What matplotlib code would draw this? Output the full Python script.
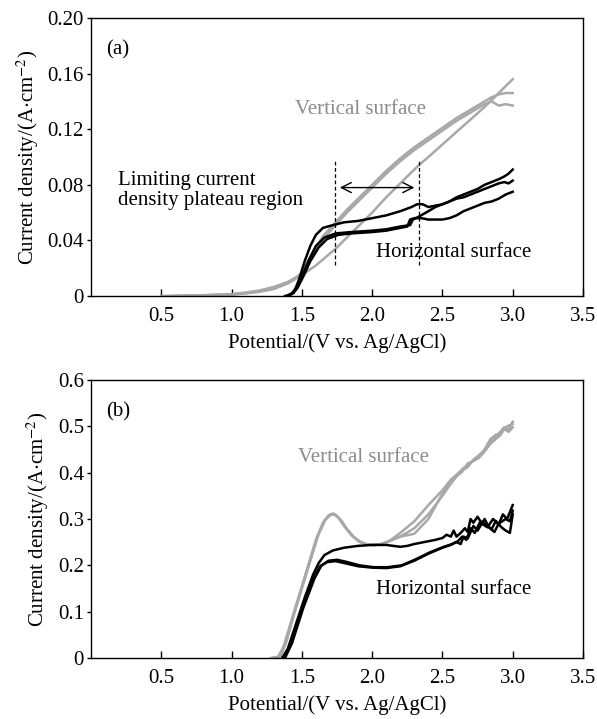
import numpy as np
import matplotlib
matplotlib.use("Agg")
import matplotlib.pyplot as plt

plt.rcParams["font.family"] = ["Liberation Serif", "DejaVu Serif"]
plt.rcParams["mathtext.fontset"] = "stix"

GRAY = "#a8a8a8"
GRAY_TXT = "#8c8c8c"

# ---- panel (a): potential (V) / current density (A cm^-2) ----
a_vert = [
    ([0.50, 0.80, 1.00, 1.10, 1.20, 1.30, 1.40, 1.45, 1.50, 1.55, 1.60, 1.65, 1.74, 1.82, 1.90, 2.00,
      2.10, 2.20, 2.30, 2.40, 2.50, 2.60, 2.70, 2.80, 2.85, 2.90, 2.95, 3.00],
     [0.000, 0.0005, 0.001, 0.0018, 0.003, 0.005, 0.009, 0.012, 0.017, 0.026, 0.035, 0.043, 0.053, 0.062,
      0.070, 0.080, 0.090, 0.099, 0.107, 0.114, 0.121, 0.128, 0.134, 0.140, 0.143, 0.145, 0.146, 0.146]),
    ([0.55, 0.80, 1.00, 1.10, 1.20, 1.30, 1.40, 1.45, 1.50, 1.55, 1.60, 1.66, 1.74, 1.82, 1.90, 2.00,
      2.10, 2.20, 2.30, 2.40, 2.50, 2.60, 2.70, 2.80, 2.85, 2.90, 2.95, 3.00],
     [0.000, 0.0006, 0.0012, 0.002, 0.0035, 0.006, 0.010, 0.013, 0.016, 0.024, 0.033, 0.042, 0.051, 0.060,
      0.068, 0.078, 0.088, 0.097, 0.105, 0.112, 0.119, 0.126, 0.132, 0.138, 0.140, 0.137, 0.138, 0.137]),
    ([0.60, 0.90, 1.00, 1.10, 1.20, 1.30, 1.40, 1.50, 1.60, 1.74, 1.90, 2.00, 2.10, 2.20, 2.32, 2.40,
      2.50, 2.60, 2.70, 2.80, 2.85, 2.90, 2.95, 3.00],
     [0.000, 0.0008, 0.0014, 0.0025, 0.004, 0.0065, 0.010, 0.015, 0.022, 0.034, 0.050, 0.060, 0.071, 0.081,
      0.093, 0.100, 0.109, 0.118, 0.127, 0.136, 0.141, 0.146, 0.151, 0.156]),
]
a_horz = [
    ([1.38, 1.42, 1.45, 1.48, 1.52, 1.56, 1.60, 1.65, 1.72, 1.80, 1.90, 2.00, 2.10, 2.20, 2.28, 2.32,
      2.36, 2.40, 2.45, 2.50, 2.55, 2.60, 2.65, 2.70, 2.75, 2.80, 2.85, 2.90, 2.94, 2.97, 3.00],
     [0.000, 0.001, 0.004, 0.012, 0.025, 0.036, 0.044, 0.049, 0.051, 0.053, 0.054, 0.056, 0.058, 0.061,
      0.064, 0.066, 0.066, 0.064, 0.065, 0.066, 0.068, 0.070, 0.071, 0.073, 0.075, 0.077, 0.079, 0.081,
      0.082, 0.081, 0.083]),
    ([1.39, 1.43, 1.46, 1.50, 1.55, 1.60, 1.66, 1.74, 1.85, 2.00, 2.10, 2.20, 2.27, 2.29, 2.33, 2.40,
      2.45, 2.50, 2.55, 2.60, 2.65, 2.70, 2.75, 2.80, 2.85, 2.90, 2.94, 2.97, 3.00],
     [0.000, 0.002, 0.006, 0.014, 0.026, 0.036, 0.042, 0.045, 0.046, 0.047, 0.048, 0.050, 0.051, 0.055,
      0.057, 0.061, 0.064, 0.066, 0.068, 0.071, 0.073, 0.075, 0.077, 0.080, 0.082, 0.084, 0.086, 0.088, 0.091]),
    ([1.40, 1.44, 1.47, 1.51, 1.56, 1.62, 1.68, 1.76, 1.85, 2.00, 2.10, 2.20, 2.25, 2.27, 2.30, 2.35,
      2.40, 2.50, 2.55, 2.60, 2.65, 2.70, 2.75, 2.80, 2.85, 2.90, 2.95, 3.00],
     [0.000, 0.002, 0.006, 0.014, 0.025, 0.035, 0.041, 0.044, 0.045, 0.046, 0.047, 0.049, 0.050, 0.055,
      0.056, 0.056, 0.055, 0.055, 0.056, 0.058, 0.061, 0.063, 0.065, 0.067, 0.068, 0.070, 0.073, 0.075]),
]

# ---- panel (b) ----
b_vert = [
    ([1.28, 1.33, 1.37, 1.42, 1.48, 1.54, 1.60, 1.65, 1.69, 1.72, 1.76, 1.80, 1.85, 1.90, 1.95, 2.00,
      2.05, 2.10, 2.20, 2.30, 2.40, 2.50, 2.55, 2.60, 2.64, 2.68, 2.72, 2.76, 2.80, 2.84, 2.87, 2.90,
      2.93, 2.96, 3.00],
     [0.000, 0.002, 0.025, 0.075, 0.135, 0.195, 0.255, 0.292, 0.308, 0.312, 0.303, 0.285, 0.266, 0.253,
      0.246, 0.244, 0.245, 0.250, 0.262, 0.280, 0.310, 0.350, 0.372, 0.392, 0.402, 0.420, 0.425, 0.432,
      0.446, 0.462, 0.470, 0.478, 0.490, 0.500, 0.505]),
    ([1.29, 1.34, 1.38, 1.43, 1.49, 1.55, 1.61, 1.66, 1.70, 1.73, 1.77, 1.81, 1.86, 1.91, 1.96, 2.01,
      2.06, 2.12, 2.20, 2.30, 2.40, 2.50, 2.56, 2.61, 2.65, 2.69, 2.73, 2.77, 2.81, 2.85, 2.88, 2.91,
      2.94, 2.97, 3.00],
     [0.000, 0.003, 0.030, 0.082, 0.142, 0.202, 0.262, 0.296, 0.309, 0.311, 0.300, 0.282, 0.263, 0.251,
      0.245, 0.243, 0.245, 0.252, 0.270, 0.295, 0.330, 0.362, 0.385, 0.398, 0.410, 0.418, 0.430, 0.440,
      0.452, 0.468, 0.478, 0.488, 0.498, 0.493, 0.510]),
    ([1.30, 1.35, 1.39, 1.44, 1.50, 1.56, 1.62, 1.67, 1.71, 1.74, 1.78, 1.82, 1.87, 1.92, 1.97, 2.02,
      2.07, 2.12, 2.20, 2.30, 2.40, 2.50, 2.56, 2.60, 2.64, 2.68, 2.72, 2.76, 2.80, 2.84, 2.88, 2.91,
      2.94, 2.97, 3.00],
     [0.000, 0.004, 0.035, 0.090, 0.150, 0.210, 0.268, 0.300, 0.310, 0.309, 0.297, 0.279, 0.261, 0.250,
      0.245, 0.244, 0.246, 0.252, 0.262, 0.268, 0.300, 0.355, 0.380, 0.392, 0.405, 0.412, 0.428, 0.436,
      0.450, 0.472, 0.482, 0.480, 0.495, 0.488, 0.498]),
]
b_horz = [
    ([1.36, 1.40, 1.46, 1.52, 1.58, 1.62, 1.66, 1.72, 1.80, 1.90, 2.00, 2.10, 2.15, 2.20, 2.25, 2.30,
      2.35, 2.40, 2.45, 2.50, 2.53, 2.56, 2.58, 2.60, 2.63, 2.66, 2.68, 2.70, 2.72, 2.75, 2.78, 2.82,
      2.86, 2.90, 2.93, 2.96, 3.00],
     [0.000, 0.020, 0.075, 0.130, 0.180, 0.205, 0.222, 0.232, 0.238, 0.242, 0.244, 0.244, 0.242, 0.240,
      0.242, 0.246, 0.249, 0.252, 0.255, 0.259, 0.266, 0.262, 0.275, 0.262, 0.270, 0.280, 0.272, 0.300,
      0.292, 0.305, 0.290, 0.282, 0.300, 0.288, 0.310, 0.300, 0.330]),
    ([1.37, 1.42, 1.50, 1.58, 1.63, 1.68, 1.74, 1.80, 1.90, 2.00, 2.10, 2.20, 2.30, 2.40, 2.50, 2.55,
      2.60, 2.63, 2.65, 2.68, 2.72, 2.75, 2.80, 2.83, 2.87, 2.90, 2.95, 2.98, 3.00],
     [0.000, 0.030, 0.105, 0.170, 0.198, 0.207, 0.209, 0.205, 0.198, 0.195, 0.194, 0.198, 0.210, 0.225,
      0.238, 0.243, 0.250, 0.246, 0.262, 0.258, 0.285, 0.275, 0.300, 0.282, 0.272, 0.290, 0.300, 0.295,
      0.318]),
    ([1.38, 1.43, 1.51, 1.59, 1.64, 1.69, 1.75, 1.81, 1.91, 2.01, 2.11, 2.21, 2.31, 2.41, 2.51, 2.56,
      2.61, 2.64, 2.67, 2.70, 2.73, 2.77, 2.81, 2.85, 2.88, 2.92, 2.95, 2.98, 3.00],
     [0.000, 0.032, 0.108, 0.172, 0.200, 0.210, 0.212, 0.208, 0.200, 0.196, 0.196, 0.200, 0.213, 0.228,
      0.240, 0.245, 0.252, 0.262, 0.255, 0.280, 0.270, 0.295, 0.288, 0.278, 0.296, 0.282, 0.275, 0.270,
      0.310]),
]

xticks = [0.5, 1.0, 1.5, 2.0, 2.5, 3.0, 3.5]
xticklabels = ["0.5", "1.0", "1.5", "2.0", "2.5", "3.0", "3.5"]
a_yticks = [0, 0.04, 0.08, 0.12, 0.16, 0.20]
a_yticklabels = ["0", "0.04", "0.08", "0.12", "0.16", "0.20"]
b_yticks = [0, 0.1, 0.2, 0.3, 0.4, 0.5, 0.6]
b_yticklabels = ["0", "0.1", "0.2", "0.3", "0.4", "0.5", "0.6"]

W, H = 597, 719
fig = plt.figure(figsize=(W / 100, H / 100), dpi=100)
ax_a = fig.add_axes([91 / W, (H - 296) / H, 492 / W, 278 / H])
ax_b = fig.add_axes([91 / W, (H - 658) / H, 492 / W, 278 / H])

FS = 15
panels = [
    (ax_a, a_vert, a_horz, 0.20, a_yticks, a_yticklabels, "(a)"),
    (ax_b, b_vert, b_horz, 0.60, b_yticks, b_yticklabels, "(b)"),
]
for ax, vert, horz, ymax, yt, ytl, tag in panels:
    for xs, ys in vert:
        ax.plot(xs, ys, color=GRAY, lw=1.8, solid_joinstyle="round")
    for xs, ys in horz:
        ax.plot(xs, ys, color="black", lw=1.8, solid_joinstyle="round")
    ax.set_xlim(0, 3.5)
    ax.set_ylim(0, ymax)
    ax.set_xticks(xticks)
    ax.set_xticklabels(xticklabels, fontsize=FS)
    ax.set_yticks(yt)
    ax.set_yticklabels(ytl, fontsize=FS)
    ax.tick_params(axis="x", direction="in", length=5, width=1, pad=8)
    ax.tick_params(axis="y", direction="out", length=3, width=1, pad=2)
    for s in ax.spines.values():
        s.set_linewidth(1.0)
    ax.set_xlabel("Potential/(V vs. Ag/AgCl)", fontsize=FS, labelpad=5)
    ax.set_ylabel("Current density/(A$\\cdot$cm$^{-2}$)", fontsize=FS, labelpad=5)
    ax.text(0.11, ymax * 0.885, tag, fontsize=FS, va="center")

# annotations panel (a)
ax_a.text(0.19, 0.083, "Limiting current", fontsize=FS, va="center")
ax_a.text(0.19, 0.069, "density plateau region", fontsize=FS, va="center")
ax_a.text(1.45, 0.134, "Vertical surface", fontsize=FS, color=GRAY_TXT, va="center")
ax_a.text(2.03, 0.031, "Horizontal surface", fontsize=FS, va="center")
for xv in (1.735, 2.33):
    ax_a.plot([xv, xv], [0.022, 0.098], color="black", lw=0.9, ls=(0, (3, 2)))
ax_a.annotate("", xy=(1.75, 0.078), xytext=(2.32, 0.078),
              arrowprops=dict(arrowstyle="<->", color="black", lw=1.0, mutation_scale=18))

# annotations panel (b)
ax_b.text(1.47, 0.432, "Vertical surface", fontsize=FS, color=GRAY_TXT, va="center")
ax_b.text(2.03, 0.147, "Horizontal surface", fontsize=FS, va="center")

fig.savefig("out.png", dpi=100)
